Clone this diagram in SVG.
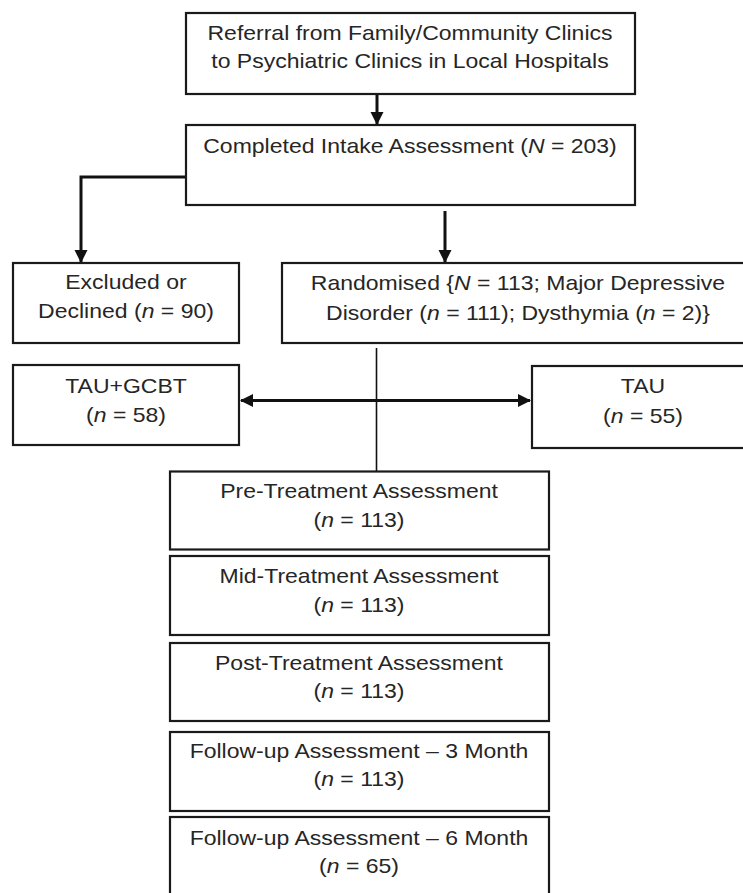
<svg xmlns="http://www.w3.org/2000/svg" width="743" height="893" viewBox="0 0 743 893">
<style>
.box{fill:#fff;stroke:#1a1a1a;stroke-width:2.2}
.t{font-family:"Liberation Sans",Arial,sans-serif;font-size:20px;fill:#262626;text-anchor:middle}
.i{font-style:italic}
.c{fill:none;stroke:#111;stroke-width:3}
.thin{fill:none;stroke:#111;stroke-width:1.6}
</style>
<defs>
<marker id="ah" markerUnits="userSpaceOnUse" markerWidth="14" markerHeight="14" refX="12" refY="6.5" orient="auto-start-reverse">
<path d="M0,0 L13,6.5 L0,13 Z" fill="#111"/>
</marker>
</defs>
<rect width="743" height="893" fill="#fff"/>
<g id="connectors">
<line class="c" x1="377" y1="94" x2="377" y2="124" marker-end="url(#ah)"/>
<polyline class="c" points="186,177 81,177 81,262" marker-end="url(#ah)"/>
<line class="c" x1="445" y1="211" x2="445" y2="262" marker-end="url(#ah)"/>
<line class="thin" x1="376.5" y1="348" x2="376.5" y2="471"/>
<line class="c" x1="241" y1="400.5" x2="530" y2="400.5" marker-start="url(#ah)" marker-end="url(#ah)"/>
</g>
<g id="referral">
<rect class="box" x="186" y="13" width="449" height="81"/>
<text class="t" transform="translate(410,40) scale(1.15,1)">Referral from Family/Community Clinics</text>
<text class="t" transform="translate(410,68) scale(1.15,1)">to Psychiatric Clinics in Local Hospitals</text>
</g>
<g id="intake">
<rect class="box" x="186" y="125" width="449" height="80"/>
<text class="t" transform="translate(410,153) scale(1.15,1)">Completed Intake Assessment (<tspan class="i">N</tspan> = 203)</text>
</g>
<g id="excluded">
<rect class="box" x="13" y="263" width="226" height="80"/>
<text class="t" transform="translate(126,289) scale(1.15,1)">Excluded or</text>
<text class="t" transform="translate(126,318) scale(1.15,1)">Declined (<tspan class="i">n</tspan> = 90)</text>
</g>
<g id="randomised">
<rect class="box" x="282" y="263" width="470" height="80"/>
<text class="t" transform="translate(518,290) scale(1.15,1)">Randomised {<tspan class="i">N</tspan> = 113; Major Depressive</text>
<text class="t" transform="translate(518,320) scale(1.15,1)">Disorder (<tspan class="i">n</tspan> = 111); Dysthymia (<tspan class="i">n</tspan> = 2)}</text>
</g>
<g id="tau-gcbt">
<rect class="box" x="13" y="365" width="226" height="80"/>
<text class="t" transform="translate(126,393) scale(1.15,1)">TAU+GCBT</text>
<text class="t" transform="translate(126,422) scale(1.15,1)">(<tspan class="i">n</tspan> = 58)</text>
</g>
<g id="tau">
<rect class="box" x="532" y="366" width="220" height="82"/>
<text class="t" transform="translate(643,393) scale(1.15,1)">TAU</text>
<text class="t" transform="translate(643,423) scale(1.15,1)">(<tspan class="i">n</tspan> = 55)</text>
</g>
<g id="pre">
<rect class="box" x="170" y="471.5" width="379" height="78"/>
<text class="t" transform="translate(359,498) scale(1.15,1)">Pre-Treatment Assessment</text>
<text class="t" transform="translate(359,527) scale(1.15,1)">(<tspan class="i">n</tspan> = 113)</text>
</g>
<g id="mid">
<rect class="box" x="170" y="556" width="379" height="79"/>
<text class="t" transform="translate(359,583) scale(1.15,1)">Mid-Treatment Assessment</text>
<text class="t" transform="translate(359,612) scale(1.15,1)">(<tspan class="i">n</tspan> = 113)</text>
</g>
<g id="post">
<rect class="box" x="170" y="643" width="379" height="78"/>
<text class="t" transform="translate(359,670) scale(1.15,1)">Post-Treatment Assessment</text>
<text class="t" transform="translate(359,698) scale(1.15,1)">(<tspan class="i">n</tspan> = 113)</text>
</g>
<g id="fu3">
<rect class="box" x="170" y="732" width="379" height="79"/>
<text class="t" transform="translate(359,758) scale(1.15,1)">Follow-up Assessment – 3 Month</text>
<text class="t" transform="translate(359,786) scale(1.15,1)">(<tspan class="i">n</tspan> = 113)</text>
</g>
<g id="fu6">
<rect class="box" x="170" y="817" width="379" height="100"/>
<text class="t" transform="translate(359,845) scale(1.15,1)">Follow-up Assessment – 6 Month</text>
<text class="t" transform="translate(359,873) scale(1.15,1)">(<tspan class="i">n</tspan> = 65)</text>
</g>
</svg>
